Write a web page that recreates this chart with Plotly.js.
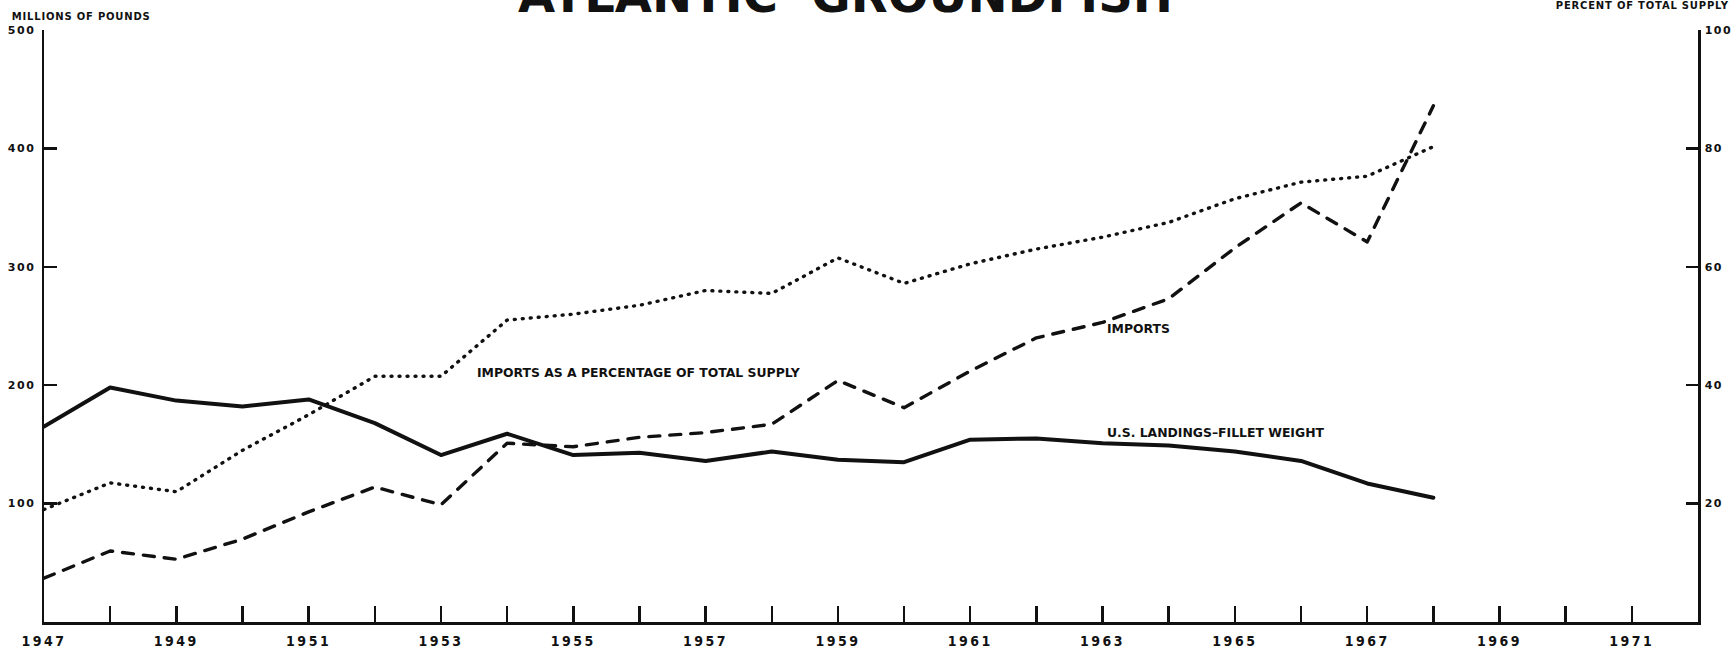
<!DOCTYPE html>
<html>
<head>
<meta charset="utf-8">
<script src="https://cdn.plot.ly/plotly-3.0.1.min.js"></script>
<style>
  html, body { margin: 0; padding: 0; background: #ffffff; }
  #chart { width: 1731px; height: 656px; }
  .scatterlayer path.js-line { stroke-linecap: round; stroke-linejoin: round; }
  g.xtick text { letter-spacing: 2.5px; }
  g.ytick text, g.y2tick text { letter-spacing: 1.5px; }
  g.annotation[data-index="1"] text, g.annotation[data-index="2"] text { letter-spacing: 0.8px; }
</style>
</head>
<body>
<div id="chart"></div>
<script>
// ---- data ----
const years = [1947, 1948, 1949, 1950, 1951, 1952, 1953, 1954, 1955, 1956, 1957,
               1958, 1959, 1960, 1961, 1962, 1963, 1964, 1965, 1966, 1967, 1968];

// U.S. landings - fillet weight, millions of pounds
const usLandings = [165, 198, 187, 182, 188, 168, 141, 159, 141, 143, 136,
                    144, 137, 135, 154, 155, 151, 149, 144, 136, 117, 105];

// Imports, millions of pounds
const imports = [37, 60, 53, 70, 93, 114, 99, 151, 148, 156, 160,
                 167, 204, 181, 212, 240, 253, 273, 316, 354, 321, 436];

// Imports as a percentage of total supply (right axis, percent)
const importsPct = [19, 23.5, 22, 29, 35, 41.5, 41.5, 51, 52, 53.5, 56,
                    55.5, 61.5, 57.2, 60.5, 63, 65, 67.5, 71.5, 74.3, 75.3, 80.3];

// axis ticks
const xTickYears = [1947, 1948, 1949, 1950, 1951, 1952, 1953, 1954, 1955, 1956, 1957, 1958, 1959,
                    1960, 1961, 1962, 1963, 1964, 1965, 1966, 1967, 1968, 1969, 1970, 1971];
const xTickLabels = ['1947', '', '1949', '', '1951', '', '1953', '', '1955', '', '1957', '', '1959',
                     '', '1961', '', '1963', '', '1965', '', '1967', '', '1969', '', '1971'];
const leftTicks = [100, 200, 300, 400, 500];
const rightTicks = [20, 40, 60, 80, 100];

// ---- styling ----
const INK = '#111111';
const FONT = 'DejaVu Sans, Liberation Sans, sans-serif';
const COND = 'DejaVu Sans Condensed, DejaVu Sans, sans-serif';

const traces = [
  {
    x: years, y: usLandings, type: 'scatter', mode: 'lines',
    name: 'U.S. LANDINGS–FILLET WEIGHT',
    line: { color: INK, width: 4 }
  },
  {
    x: years, y: imports, type: 'scatter', mode: 'lines',
    name: 'IMPORTS',
    line: { color: INK, width: 3.4, dash: '11px,10px' }
  },
  {
    x: years, y: importsPct, type: 'scatter', mode: 'lines', yaxis: 'y2',
    name: 'IMPORTS AS A PERCENTAGE OF TOTAL SUPPLY',
    line: { color: INK, width: 3.4, dash: '1px,7px' }
  }
];

const axisCommon = {
  showgrid: false, zeroline: false, showline: true,
  linecolor: INK, linewidth: 2.5,
  ticks: 'inside', tickcolor: INK, tickwidth: 2.5,
  fixedrange: true
};

const layout = {
  width: 1731, height: 656,
  paper_bgcolor: '#ffffff', plot_bgcolor: '#ffffff',
  margin: { l: 44, r: 33, t: 30, b: 34, pad: 0 },
  showlegend: false,
  font: { family: FONT, color: INK },
  xaxis: Object.assign({}, axisCommon, {
    range: [1947, 1972],
    tickmode: 'array', tickvals: xTickYears, ticktext: xTickLabels,
    ticklen: 16,
    ticklabelstandoff: 5,
    tickfont: { family: COND, size: 14, weight: 700, color: INK }
  }),
  yaxis: Object.assign({}, axisCommon, {
    range: [0, 500],
    tickmode: 'array', tickvals: leftTicks,
    ticklen: 13,
    ticklabelstandoff: 4,
    tickfont: { family: FONT, size: 11, weight: 700, color: INK }
  }),
  yaxis2: Object.assign({}, axisCommon, {
    range: [0, 100], overlaying: 'y', side: 'right',
    tickmode: 'array', tickvals: rightTicks,
    ticklen: 12,
    ticklabelstandoff: 2,
    tickfont: { family: FONT, size: 11, weight: 700, color: INK }
  }),
  annotations: [
    {
      text: 'ATLANTIC  GROUNDFISH', xref: 'paper', yref: 'paper',
      x: 0.4843, y: 1.059, xanchor: 'center', yanchor: 'middle', showarrow: false,
      font: { family: FONT, size: 48, weight: 700, color: INK }
    },
    {
      text: 'MILLIONS OF POUNDS', xref: 'paper', yref: 'paper',
      x: 0.0224, y: 1.0228, xanchor: 'center', yanchor: 'middle', showarrow: false,
      font: { family: FONT, size: 10, weight: 700, color: INK }
    },
    {
      text: 'PERCENT OF TOTAL SUPPLY', xref: 'paper', yref: 'paper',
      x: 0.9667, y: 1.042, xanchor: 'center', yanchor: 'middle', showarrow: false,
      font: { family: FONT, size: 10, weight: 700, color: INK }
    },
    {
      text: 'IMPORTS AS A PERCENTAGE OF TOTAL SUPPLY', xref: 'x', yref: 'y',
      x: 1953.51, y: 211, xanchor: 'left', yanchor: 'middle', showarrow: false,
      font: { family: FONT, size: 12.4, weight: 700, color: INK }
    },
    {
      text: 'IMPORTS', xref: 'x', yref: 'y',
      x: 1963.03, y: 248, xanchor: 'left', yanchor: 'middle', showarrow: false,
      font: { family: FONT, size: 12.4, weight: 700, color: INK }
    },
    {
      text: 'U.S. LANDINGS–FILLET WEIGHT', xref: 'x', yref: 'y',
      x: 1963.03, y: 160, xanchor: 'left', yanchor: 'middle', showarrow: false,
      font: { family: FONT, size: 12.4, weight: 700, color: INK }
    }
  ]
};

Plotly.newPlot('chart', traces, layout, { staticPlot: true, displayModeBar: false });
</script>
</body>
</html>
